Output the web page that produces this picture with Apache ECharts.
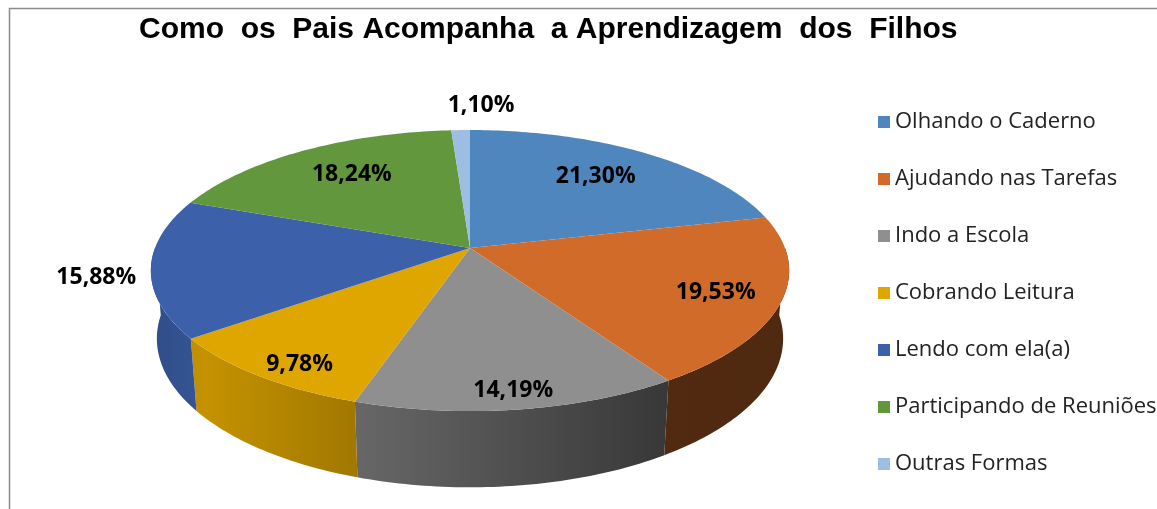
<!DOCTYPE html>
<html>
<head>
<meta charset="utf-8">
<script src="https://cdn.jsdelivr.net/npm/echarts@6/dist/echarts.min.js"></script>
<style>
  html, body { margin: 0; padding: 0; background: #fff; }
  #chart { width: 1157px; height: 509px; }
</style>
</head>
<body>
<div id="chart"></div>
<script>
// Data
const categories = [
    'Olhando o Caderno',
    'Ajudando nas Tarefas',
    'Indo a Escola',
    'Cobrando Leitura',
    'Lendo com ela(a)',
    'Participando de Reuniões',
    'Outras Formas'
];
const values = [21.30, 19.53, 14.19, 9.78, 15.88, 18.24, 1.10];
const colors = ['#4f86bd', '#d06b2a', '#8f8f8f', '#e0a600', '#3c61aa', '#62973d', '#9dbde2'];

// Label placement (fraction of radius, pixel nudge)
const labelRadius = [0.7, 0.8, 0.9, 0.85, 1.2, 0.7, 1.2];
const labelNudge = [[0, -2], [0, 2], [0, 0], [5, 10], [11, 5], [3, -3], [22, -5]];

// Fake 3D pie: simple perspective projection
const CX = 470, CY = 248, R = 315, H = 76, D = 1767;
const sinA = 0.4346, cosA = Math.sqrt(1 - sinA * sinA);

function proj(X, Y, Z) {
    const depth = Z * cosA + Y * sinA;
    const s = D / (D - depth);
    return [CX + X * s, CY + (Z * sinA - Y * cosA) * s];
}

function rim(deg, Y, rf) {
    const t = deg * Math.PI / 180;
    const r = R * (rf || 1);
    return proj(r * Math.sin(t), Y, -r * Math.cos(t));
}

function arcPoints(a, b, Y) {
    const pts = [];
    const n = Math.max(2, Math.ceil(Math.abs(b - a)));
    for (let k = 0; k <= n; k++) pts.push(rim(a + (b - a) * k / n, Y));
    return pts;
}

function shade(hex, f) {
    const n = parseInt(hex.slice(1), 16);
    const r = Math.round(((n >> 16) & 255) * f);
    const g = Math.round(((n >> 8) & 255) * f);
    const b = Math.round((n & 255) * f);
    return `rgb(${r},${g},${b})`;
}

const total = values.reduce((a, b) => a + b, 0);
const starts = [];
values.reduce((acc, v) => { starts.push(acc); return acc + v; }, 0);

function fmt(v) {
    return v.toFixed(2).replace('.', ',') + '%';
}

function makeRender(i) {
    return function (params, api) {
        const v = api.value(0);
        const a = starts[i] / total * 360;
        const b = a + v / total * 360;
        const children = [];

        // top face
        const top = [proj(0, 0, 0)].concat(arcPoints(a, b, 0));
        children.push({ type: 'polygon', shape: { points: top }, style: { fill: colors[i] }, z2: 100 });

        // front wall
        const wa = Math.max(a, 90), wb = Math.min(b, 270);
        if (wa < wb) {
            const wall = arcPoints(wa, wb, 0).concat(arcPoints(wb, wa, -H));
            children.push({
                type: 'polygon',
                shape: { points: wall },
                style: {
                    fill: {
                        type: 'linear', x: CX - R, y: 0, x2: CX + R, y2: 0, global: true,
                        colorStops: [
                            { offset: 0, color: shade(colors[i], 0.8) },
                            { offset: 0.08, color: shade(colors[i], 0.88) },
                            { offset: 0.81, color: shade(colors[i], 0.39) },
                            { offset: 1, color: shade(colors[i], 0.38) }
                        ]
                    }
                },
                z2: 10
            });
        }

        // label
        const p = rim((a + b) / 2, 0, labelRadius[i]);
        children.push({
            type: 'text',
            style: {
                text: fmt(v),
                x: p[0] + labelNudge[i][0],
                y: p[1] + labelNudge[i][1],
                fill: '#000',
                font: 'bold 23px "Open Sans"',
                align: 'center',
                verticalAlign: 'middle'
            },
            z2: 200
        });
        return { type: 'group', children: children };
    };
}

const chart = echarts.init(document.getElementById('chart'));

chart.setOption({
    animation: false,
    title: {
        text: 'Como  os  Pais Acompanha  a Aprendizagem  dos  Filhos',
        left: 134,
        top: 10,
        textStyle: {
            fontFamily: '"Liberation Sans", Arial',
            fontWeight: 'bold',
            fontSize: 30,
            color: '#000'
        }
    },
    legend: {
        data: categories,
        orient: 'vertical',
        left: 873,
        top: 104,
        icon: 'rect',
        itemWidth: 12,
        itemHeight: 12,
        itemGap: 31,
        textStyle: {
            fontFamily: '"Open Sans"',
            fontSize: 22,
            color: '#222',
            lineHeight: 26
        }
    },
    graphic: [{
        type: 'rect',
        shape: { x: 9.5, y: 8.5, width: 1300, height: 700 },
        style: { fill: 'none', stroke: '#8a8a8a', lineWidth: 1.5 },
        silent: true
    }],
    series: categories.map((name, i) => ({
        type: 'custom',
        name: name,
        coordinateSystem: 'none',
        itemStyle: { color: colors[i] },
        renderItem: makeRender(i),
        data: [[values[i]]]
    }))
});
</script>
</body>
</html>
